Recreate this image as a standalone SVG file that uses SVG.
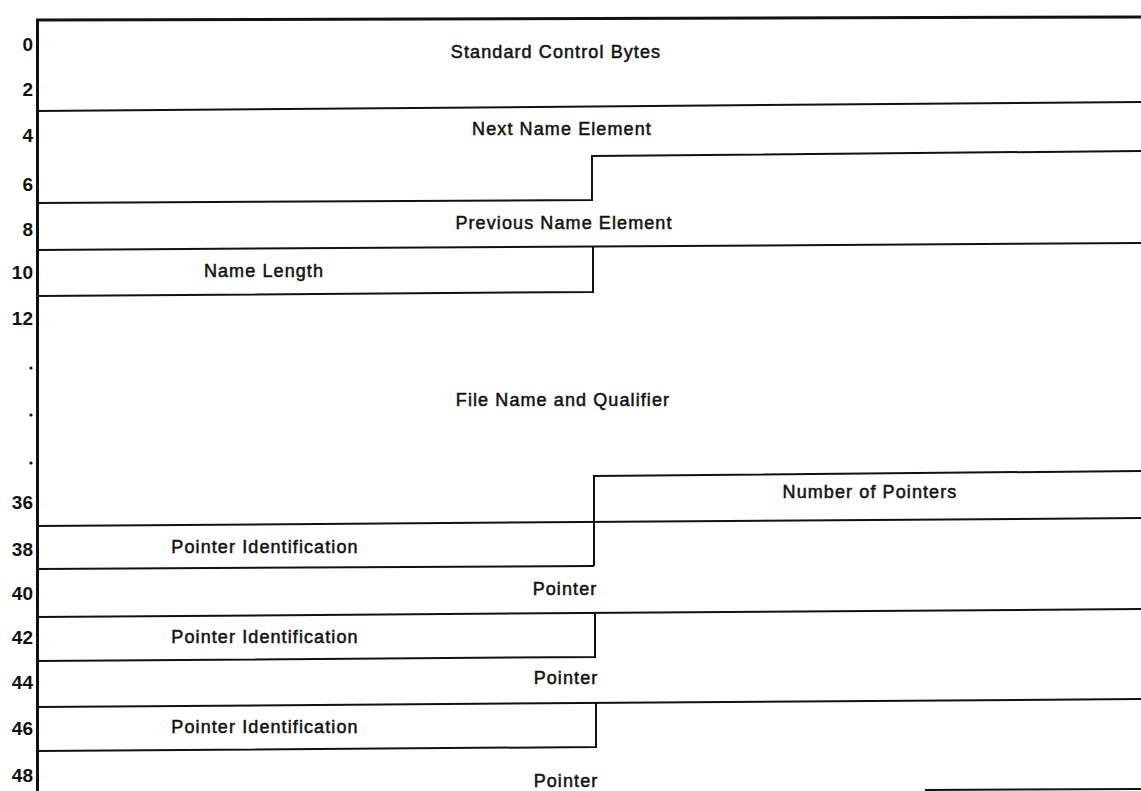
<svg xmlns="http://www.w3.org/2000/svg" width="1141" height="791" viewBox="0 0 1141 791">
<style>
.ln{fill:none;stroke:#111;stroke-width:2;stroke-linejoin:miter}
.bd{fill:none;stroke:#111;stroke-width:3}
.lbl{font-family:"Liberation Sans",Arial,sans-serif;font-size:18px;letter-spacing:1.1px;fill:#111;text-anchor:middle;stroke:#111;stroke-width:0.5}
.num{font-family:"Liberation Sans",Arial,sans-serif;font-size:19px;font-weight:bold;fill:#111;text-anchor:end}
.dot{fill:#111}
</style>
<rect width="1141" height="791" fill="#fff"/>
<g id="frame">
<path class="bd" d="M37.5 791 V20 L1141 17"/>
</g>
<g id="connectors">
<path class="ln" d="M37 111 L1141 102"/>
<path class="ln" d="M37 203 L592 200 V156 L1141 151"/>
<path class="ln" d="M37 250 L1141 243"/>
<path class="ln" d="M593 246 V292 L37 296"/>
<path class="ln" d="M594 566 V476 L1141 471"/>
<path class="ln" d="M37 526 L1141 518"/>
<path class="ln" d="M37 569 L594 566"/>
<path class="ln" d="M37 617 L1141 609"/>
<path class="ln" d="M595 613 V657 L37 661"/>
<path class="ln" d="M37 707 L1141 699"/>
<path class="ln" d="M596 703 V747 L37 751"/>
<path class="ln" d="M925 790 L1141 789"/>
</g>
<g id="offsets">
<text class="num" x="33" y="51">0</text>
<text class="num" x="33" y="96">2</text>
<text class="num" x="33" y="142">4</text>
<text class="num" x="33" y="191">6</text>
<text class="num" x="33" y="236">8</text>
<text class="num" x="33" y="279">10</text>
<text class="num" x="33" y="325">12</text>
<circle class="dot" cx="31" cy="368" r="1.6"/>
<circle class="dot" cx="31" cy="415" r="1.6"/>
<circle class="dot" cx="31" cy="463" r="1.6"/>
<text class="num" x="33" y="509">36</text>
<text class="num" x="33" y="556">38</text>
<text class="num" x="33" y="600">40</text>
<text class="num" x="33" y="644">42</text>
<text class="num" x="33" y="689">44</text>
<text class="num" x="33" y="735">46</text>
<text class="num" x="33" y="782">48</text>
</g>
<g id="f-standard"><text class="lbl" x="556" y="58">Standard Control Bytes</text></g>
<g id="f-next"><text class="lbl" x="562" y="135">Next Name Element</text></g>
<g id="f-prev"><text class="lbl" x="564" y="229">Previous Name Element</text></g>
<g id="f-namelen"><text class="lbl" x="264" y="277">Name Length</text></g>
<g id="f-filename"><text class="lbl" x="563" y="406">File Name and Qualifier</text></g>
<g id="f-numptr"><text class="lbl" x="870" y="498">Number of Pointers</text></g>
<g id="f-pid1"><text class="lbl" x="265" y="553">Pointer Identification</text></g>
<g id="f-ptr1"><text class="lbl" x="565" y="595">Pointer</text></g>
<g id="f-pid2"><text class="lbl" x="265" y="643">Pointer Identification</text></g>
<g id="f-ptr2"><text class="lbl" x="566" y="684">Pointer</text></g>
<g id="f-pid3"><text class="lbl" x="265" y="733">Pointer Identification</text></g>
<g id="f-ptr3"><text class="lbl" x="566" y="787">Pointer</text></g>
</svg>
